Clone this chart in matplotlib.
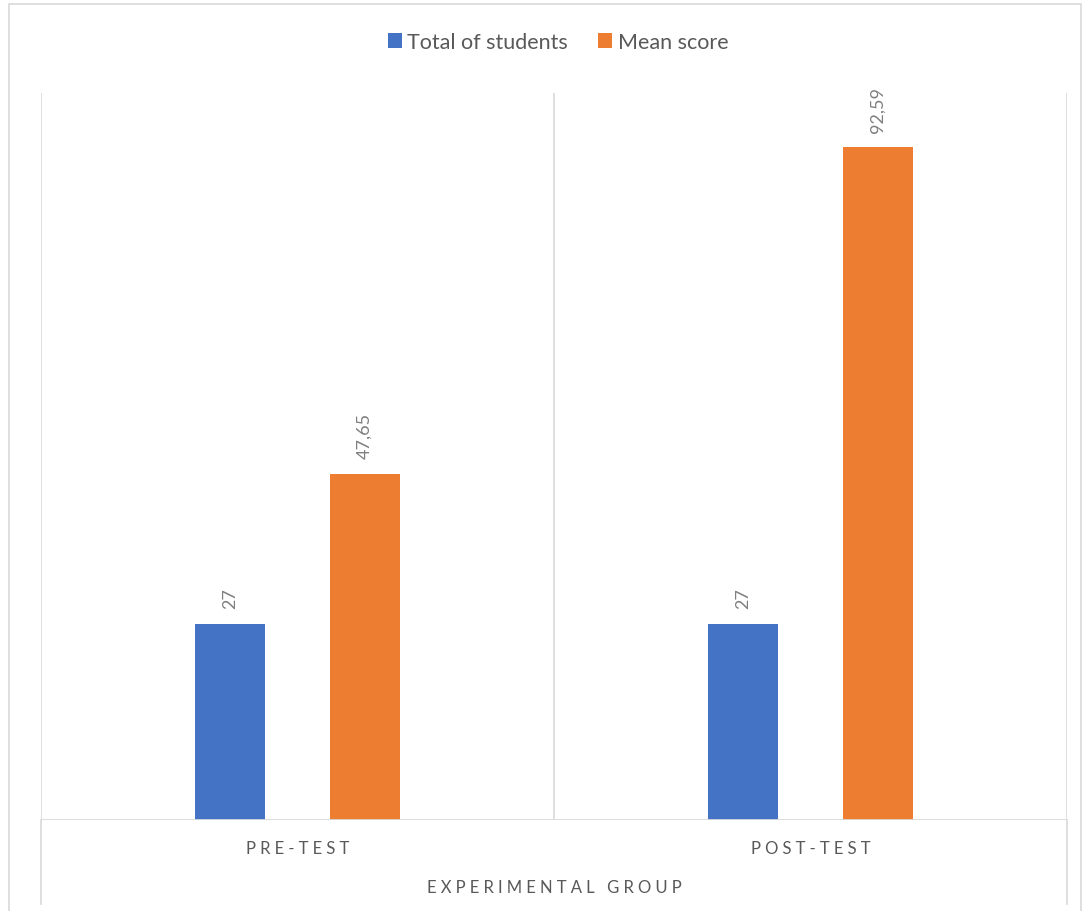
import matplotlib.pyplot as plt
from matplotlib.patches import Patch, Rectangle
from matplotlib.lines import Line2D
import numpy as np

plt.rcParams['font.family'] = ['Lato', 'DejaVu Sans']

categories = ['PRE-TEST', 'POST-TEST']
group_label = 'EXPERIMENTAL GROUP'
series_names = ['Total of students', 'Mean score']
total_students = [27, 27]
mean_score = [47.65, 92.59]
colors = ['#4472C4', '#ED7D31']

W, H = 1086, 912
fig = plt.figure(figsize=(W / 100, H / 100), dpi=100)

# plot area in pixels (left, right, baseline, top)
L, R, B, T = 41, 1067, 821, 94
ax = fig.add_axes([L / W, 1 - B / H, (R - L) / W, (B - T) / H])

x = np.arange(len(categories))
bw = 0.137
off = 0.131
b1 = ax.bar(x - off, total_students, bw, color=colors[0], zorder=3)
b2 = ax.bar(x + off, mean_score, bw, color=colors[1], zorder=3)

def fmt(v):
    s = ('%.2f' % v).rstrip('0').rstrip('.')
    return s.replace('.', ',')

for bars, vals in [(b1, total_students), (b2, mean_score)]:
    for rect, v in zip(bars, vals):
        ax.annotate(fmt(v), (rect.get_x() + rect.get_width() / 2, v),
                    xytext=(0, 11), textcoords='offset points',
                    rotation=90, ha='center', va='bottom',
                    fontsize=13, color='#7f7f7f')

ax.set_xlim(-0.5, len(categories) - 0.5)
ax.set_ylim(0, 100)
ax.set_xticks([])
ax.set_yticks([])
for s in ax.spines.values():
    s.set_visible(False)

grid = '#d9d9d9'
# category separators
for xv in np.arange(-0.5, len(categories), 1.0):
    ax.axvline(xv, color=grid, lw=1.2, zorder=1)
# baseline
ax.axhline(0, color=grid, lw=2, zorder=4)

def fy(py):
    return 1 - py / H

# outer lines of multi-level axis extend down
for px in (L, R):
    fig.add_artist(Line2D([px / W, px / W], [fy(B), fy(905)], color=grid, lw=1.2))

# letter spacing like Excel's expanded axis text
spaced = lambda s: '\u2005'.join(s)
for i, c in enumerate(categories):
    ax.text(i, -0.038, spaced(c), transform=ax.get_xaxis_transform(),
            ha='center', va='center', fontsize=12, color='#595959')
fig.text((L + R) / 2 / W, fy(888), spaced(group_label), ha='center', va='center',
         fontsize=12, color='#595959')

# chart border
fig.add_artist(Rectangle((9 / W, -0.01), (1081 - 9) / W, 1 - 5 / H + 0.01,
                         transform=fig.transFigure, fill=False,
                         edgecolor='#d9d9d9', lw=1.2))

handles = [Patch(facecolor=c, edgecolor='none') for c in colors]
fig.legend(handles, series_names, loc='center', bbox_to_anchor=(558 / W, fy(43)),
           ncol=2, frameon=False, fontsize=15.5, handlelength=0.65, handleheight=0.65,
           handletextpad=0.25, columnspacing=1.4, labelcolor='#595959')

fig.savefig('out.png', dpi=100, facecolor='white')
